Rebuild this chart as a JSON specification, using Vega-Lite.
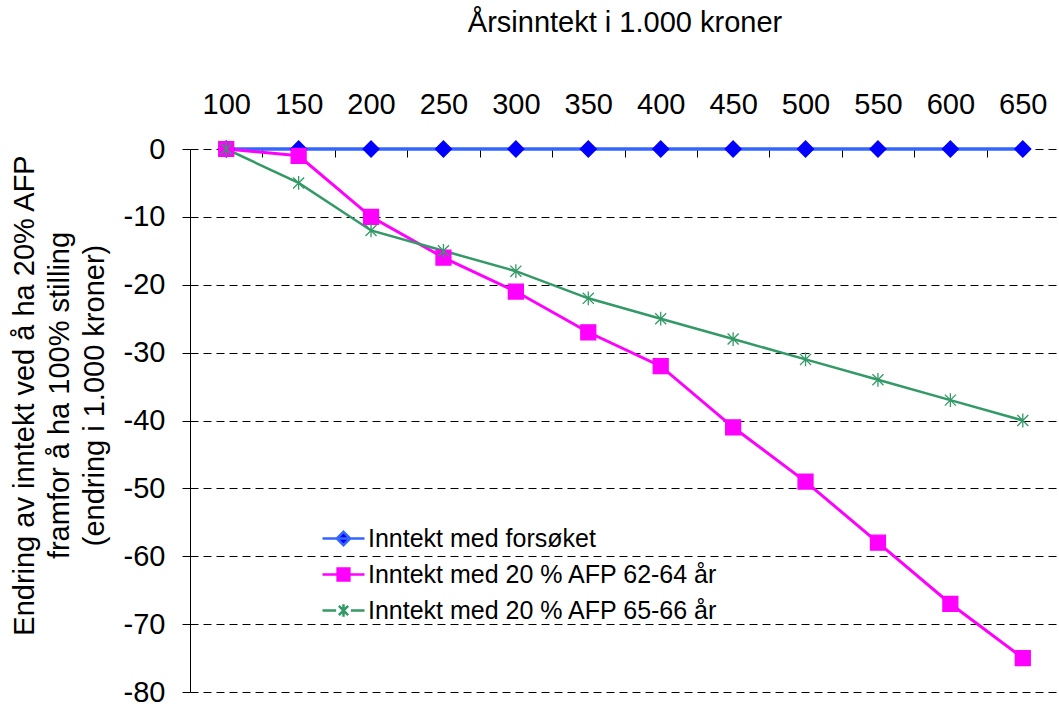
{
  "$schema": "https://vega.github.io/schema/vega-lite/v6.json",
  "autosize": "none",
  "width": 869,
  "height": 543,
  "padding": {"left": 190, "top": 149, "right": 0, "bottom": 12},
  "background": "white",
  "config": {
    "view": {"stroke": null},
    "font": "Liberation Sans",
    "axis": {"labelFont": "Liberation Sans", "titleFont": "Liberation Sans", "labelColor": "black", "titleColor": "black", "titleFontWeight": "normal"},
    "legend": {"labelFont": "Liberation Sans", "labelFontSize": 25, "labelColor": "black", "padding": 0, "labelLimit": 600}
  },
  "data": {
    "values": [
      {"x": "100", "series": "Inntekt med forsøket", "v": 0},
      {"x": "150", "series": "Inntekt med forsøket", "v": 0},
      {"x": "200", "series": "Inntekt med forsøket", "v": 0},
      {"x": "250", "series": "Inntekt med forsøket", "v": 0},
      {"x": "300", "series": "Inntekt med forsøket", "v": 0},
      {"x": "350", "series": "Inntekt med forsøket", "v": 0},
      {"x": "400", "series": "Inntekt med forsøket", "v": 0},
      {"x": "450", "series": "Inntekt med forsøket", "v": 0},
      {"x": "500", "series": "Inntekt med forsøket", "v": 0},
      {"x": "550", "series": "Inntekt med forsøket", "v": 0},
      {"x": "600", "series": "Inntekt med forsøket", "v": 0},
      {"x": "650", "series": "Inntekt med forsøket", "v": 0},
      {"x": "100", "series": "Inntekt med 20 % AFP 62-64 år", "v": 0},
      {"x": "150", "series": "Inntekt med 20 % AFP 62-64 år", "v": -1},
      {"x": "200", "series": "Inntekt med 20 % AFP 62-64 år", "v": -10},
      {"x": "250", "series": "Inntekt med 20 % AFP 62-64 år", "v": -16},
      {"x": "300", "series": "Inntekt med 20 % AFP 62-64 år", "v": -21},
      {"x": "350", "series": "Inntekt med 20 % AFP 62-64 år", "v": -27},
      {"x": "400", "series": "Inntekt med 20 % AFP 62-64 år", "v": -32},
      {"x": "450", "series": "Inntekt med 20 % AFP 62-64 år", "v": -41},
      {"x": "500", "series": "Inntekt med 20 % AFP 62-64 år", "v": -49},
      {"x": "550", "series": "Inntekt med 20 % AFP 62-64 år", "v": -58},
      {"x": "600", "series": "Inntekt med 20 % AFP 62-64 år", "v": -67},
      {"x": "650", "series": "Inntekt med 20 % AFP 62-64 år", "v": -75},
      {"x": "100", "series": "Inntekt med 20 % AFP 65-66 år", "v": 0},
      {"x": "150", "series": "Inntekt med 20 % AFP 65-66 år", "v": -5},
      {"x": "200", "series": "Inntekt med 20 % AFP 65-66 år", "v": -12},
      {"x": "250", "series": "Inntekt med 20 % AFP 65-66 år", "v": -15},
      {"x": "300", "series": "Inntekt med 20 % AFP 65-66 år", "v": -18},
      {"x": "350", "series": "Inntekt med 20 % AFP 65-66 år", "v": -22},
      {"x": "400", "series": "Inntekt med 20 % AFP 65-66 år", "v": -25},
      {"x": "450", "series": "Inntekt med 20 % AFP 65-66 år", "v": -28},
      {"x": "500", "series": "Inntekt med 20 % AFP 65-66 år", "v": -31},
      {"x": "550", "series": "Inntekt med 20 % AFP 65-66 år", "v": -34},
      {"x": "600", "series": "Inntekt med 20 % AFP 65-66 år", "v": -37},
      {"x": "650", "series": "Inntekt med 20 % AFP 65-66 år", "v": -40}
    ]
  },
  "encoding": {
    "x": {
      "field": "x", "type": "ordinal",
      "scale": {"type": "band", "paddingInner": 0, "paddingOuter": 0, "domain": ["100","150","200","250","300","350","400","450","500","550","600","650"]},
      "axis": {
        "orient": "top", "offset": -8, "title": "Årsinntekt i 1.000 kroner", "titleFontSize": 29, "titlePadding": 53,
        "labelAngle": 0, "labelFontSize": 29, "labelPadding": 30, "tickBand": "extent",
        "tickSize": 8, "tickColor": "black", "domain": false, "grid": false
      }
    },
    "y": {
      "field": "v", "type": "quantitative",
      "scale": {"domain": [-80, 0], "nice": false, "zero": false},
      "axis": {
        "values": [0, -10, -20, -30, -40, -50, -60, -70, -80],
        "labelExpr": "'' + datum.value",
        "title": ["Endring av inntekt ved å ha 20% AFP", "framfor å ha 100% stilling", "(endring i 1.000 kroner)"],
        "titleFontSize": 29, "titleLineHeight": 35, "titleX": -151, "titleY": 246, "titleBaseline": "bottom",
        "labelFontSize": 29, "labelPadding": 17, "tickSize": 8, "tickColor": "black", "domainColor": "black",
        "grid": true, "gridColor": "black", "gridDash": [8, 5], "gridWidth": 1
      }
    }
  },
  "layer": [
    {
      "mark": {"type": "line"},
      "encoding": {
        "color": {"field": "series", "type": "nominal", "legend": null,
          "scale": {"domain": ["Inntekt med forsøket", "Inntekt med 20 % AFP 62-64 år", "Inntekt med 20 % AFP 65-66 år"], "range": ["#3366FF", "#FF00FF", "#339966"]}},
        "strokeWidth": {"field": "series", "type": "nominal", "legend": null,
          "scale": {"domain": ["Inntekt med forsøket", "Inntekt med 20 % AFP 62-64 år", "Inntekt med 20 % AFP 65-66 år"], "range": [3.5, 2.5, 2.5]}}
      }
    },
    {
      "mark": {"type": "point", "filled": true, "opacity": 1, "strokeWidth": 1.3},
      "encoding": {
        "fill": {"field": "series", "type": "nominal", "legend": null,
          "scale": {"domain": ["Inntekt med forsøket", "Inntekt med 20 % AFP 62-64 år", "Inntekt med 20 % AFP 65-66 år"], "range": ["#0000FF", "#FF00FF", "#339966"]}},
        "stroke": {"field": "series", "type": "nominal", "legend": null,
          "scale": {"domain": ["Inntekt med forsøket", "Inntekt med 20 % AFP 62-64 år", "Inntekt med 20 % AFP 65-66 år"], "range": ["#0000FF", "#FF00FF", "#339966"]}},
        "shape": {"field": "series", "type": "nominal", "legend": null,
          "scale": {"domain": ["Inntekt med forsøket", "Inntekt med 20 % AFP 62-64 år", "Inntekt med 20 % AFP 65-66 år"], "range": ["M0,-1L1,0L0,1L-1,0Z", "square", "M-0.8,-0.8L0.8,0.8M-0.8,0.8L0.8,-0.8M0,-1L0,1"]}},
        "size": {"field": "series", "type": "nominal", "legend": null,
          "scale": {"domain": ["Inntekt med forsøket", "Inntekt med 20 % AFP 62-64 år", "Inntekt med 20 % AFP 65-66 år"], "range": [256, 190, 324]}}
      }
    },
    {
      "transform": [{"filter": "false"}],
      "mark": {"type": "point", "filled": true, "opacity": 1, "strokeWidth": 2.5},
      "encoding": {
        "fill": {"field": "series", "type": "nominal", "title": null,
          "scale": {"domain": ["Inntekt med forsøket", "Inntekt med 20 % AFP 62-64 år", "Inntekt med 20 % AFP 65-66 år"], "range": ["#0000FF", "#FF00FF", "#339966"]},
          "legend": {"orient": "none", "legendX": 131, "legendY": 367, "rowPadding": -13, "labelOffset": 2, "symbolSize": 1764, "symbolStrokeWidth": 2.5, "labelLimit": 600}},
        "stroke": {"field": "series", "type": "nominal", "title": null,
          "scale": {"domain": ["Inntekt med forsøket", "Inntekt med 20 % AFP 62-64 år", "Inntekt med 20 % AFP 65-66 år"], "range": ["#3366FF", "#FF00FF", "#339966"]}},
        "shape": {"field": "series", "type": "nominal", "title": null,
          "scale": {"domain": ["Inntekt med forsøket", "Inntekt med 20 % AFP 62-64 år", "Inntekt med 20 % AFP 65-66 år"], "range": ["M0,-0.32L0.32,0L0,0.32L-0.32,0Z M-1,0L1,0", "M-0.28,-0.28L0.28,-0.28L0.28,0.28L-0.28,0.28Z M-1,0L1,0", "M-0.22,-0.22L0.22,0.22M-0.22,0.22L0.22,-0.22M0,-0.3L0,0.3 M-1,0L-0.35,0 M0.35,0L1,0"]}}
      }
    }
  ],
  "resolve": {"scale": {"fill": "independent", "stroke": "independent", "shape": "independent", "size": "independent"}}
}
